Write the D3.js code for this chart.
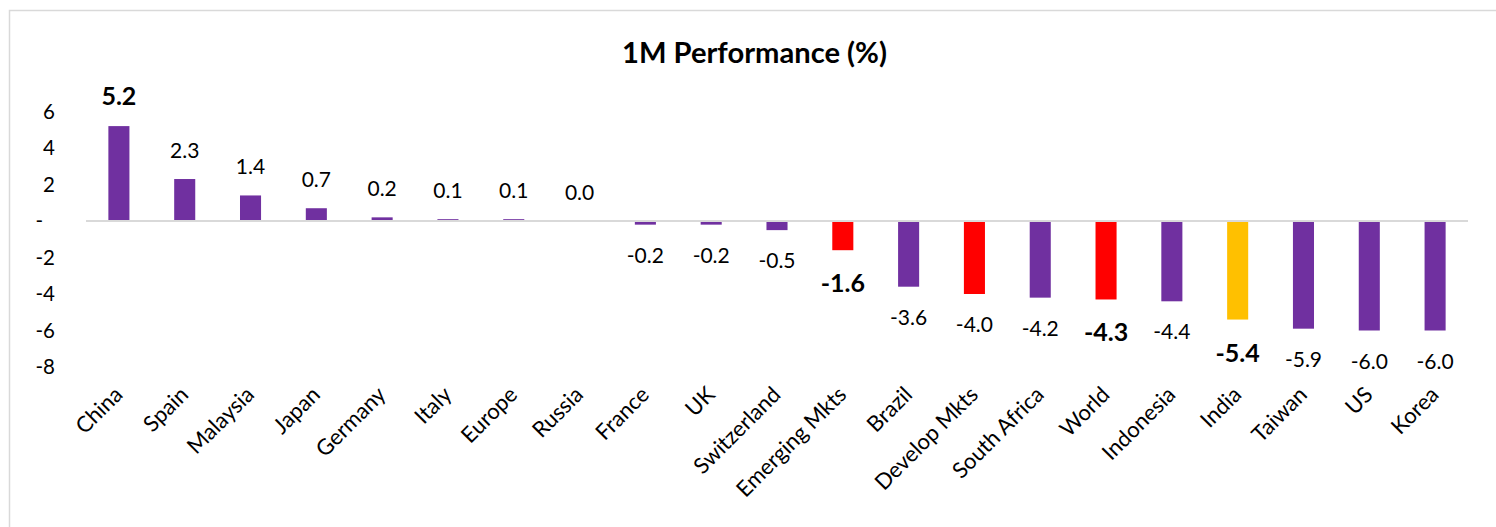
<!DOCTYPE html>
<html>
<head>
<meta charset="utf-8">
<script src="https://cdn.jsdelivr.net/npm/d3@7/dist/d3.min.js"></script>
<style>
  html, body { margin: 0; padding: 0; background: #ffffff; }
  svg { display: block; }
  text { font-family: Lato, "Noto Sans", sans-serif; fill: #000; }
</style>
</head>
<body>
<svg id="chart" width="1496" height="527"></svg>
<script>
// ---- data ----
const title = "1M Performance (%)";
const categories = ["China","Spain","Malaysia","Japan","Germany","Italy","Europe","Russia","France","UK","Switzerland","Emerging Mkts","Brazil","Develop Mkts","South Africa","World","Indonesia","India","Taiwan","US","Korea"];
const values = [5.2, 2.3, 1.4, 0.7, 0.2, 0.1, 0.1, 0.0, -0.2, -0.2, -0.5, -1.6, -3.6, -4.0, -4.2, -4.3, -4.4, -5.4, -5.9, -6.0, -6.0];
const benchmarkCategories = ["Emerging Mkts","Develop Mkts","World"];
const focusCategories = ["India"];
const boldLabelCategories = ["China","Emerging Mkts","World","India"];
const yTicks = [-8, -6, -4, -2, 0, 2, 4, 6];
const yDomain = [-8, 6];

// ---- styles ----
const PURPLE = "#7030A0", RED = "#FF0000", GOLD = "#FFC000", GRID = "#D9D9D9";
function barColor(c) {
  if (focusCategories.includes(c)) return GOLD;
  if (benchmarkCategories.includes(c)) return RED;
  return PURPLE;
}

const svg = d3.select("#chart");

// chart border
svg.append("rect").attr("x", 9.5).attr("y", 10.5).attr("width", 1500).attr("height", 600)
  .attr("fill", "#fff").attr("stroke", GRID).attr("stroke-width", 1.5);

const plot = { left: 86, right: 1468, top: 111.5, bottom: 367 };

const x = d3.scaleBand().domain(categories).range([plot.left, plot.right])
  .paddingInner(0.68).paddingOuter(0.34);
const y = d3.scaleLinear().domain(yDomain).range([plot.bottom, plot.top]);

// title
const t = svg.append("text").attr("x", 754.5).attr("y", 63).attr("text-anchor", "middle")
  .attr("font-weight", "bold").attr("font-size", 25).text(title);
const tw = t.node().getComputedTextLength();
t.attr("font-size", 25 * 265 / tw);

// y tick labels
svg.append("g").selectAll("text").data(yTicks).join("text")
  .attr("x", 55).attr("y", d => y(d) + 7).attr("text-anchor", "end")
  .attr("font-size", 20.5)
  .text(d => d === 0 ? "-\u2007" : String(d));

// bars
const rows = categories.map((c, i) => ({ c, v: values[i] }));
svg.append("g").selectAll("rect").data(rows).join("rect")
  .attr("x", d => x(d.c))
  .attr("width", x.bandwidth())
  .attr("y", d => Math.min(y(d.v), y(0)))
  .attr("height", d => Math.abs(y(d.v) - y(0)))
  .attr("fill", d => barColor(d.c));

// zero axis line
svg.append("line").attr("x1", plot.left).attr("x2", plot.right)
  .attr("y1", y(0)).attr("y2", y(0)).attr("stroke", GRID).attr("stroke-width", 2);

// data labels
svg.append("g").selectAll("text").data(rows).join("text")
  .attr("x", d => x(d.c) + x.bandwidth() / 2)
  .attr("y", d => {
    const bold = boldLabelCategories.includes(d.c);
    return d.v >= 0 ? y(d.v) - 21 : y(d.v) + (bold ? 42 : 38);
  })
  .attr("text-anchor", "middle")
  .attr("font-size", d => boldLabelCategories.includes(d.c) ? 25 : 21)
  .attr("font-weight", d => boldLabelCategories.includes(d.c) ? "bold" : "normal")
  .text(d => d.v.toFixed(1));

// category labels
svg.append("g").selectAll("text").data(categories).join("text")
  .attr("transform", d => `translate(${x(d) + x.bandwidth() / 2 + 5},396) rotate(-45)`)
  .attr("text-anchor", "end")
  .attr("font-size", 22)
  .text(d => d);
</script>
</body>
</html>
